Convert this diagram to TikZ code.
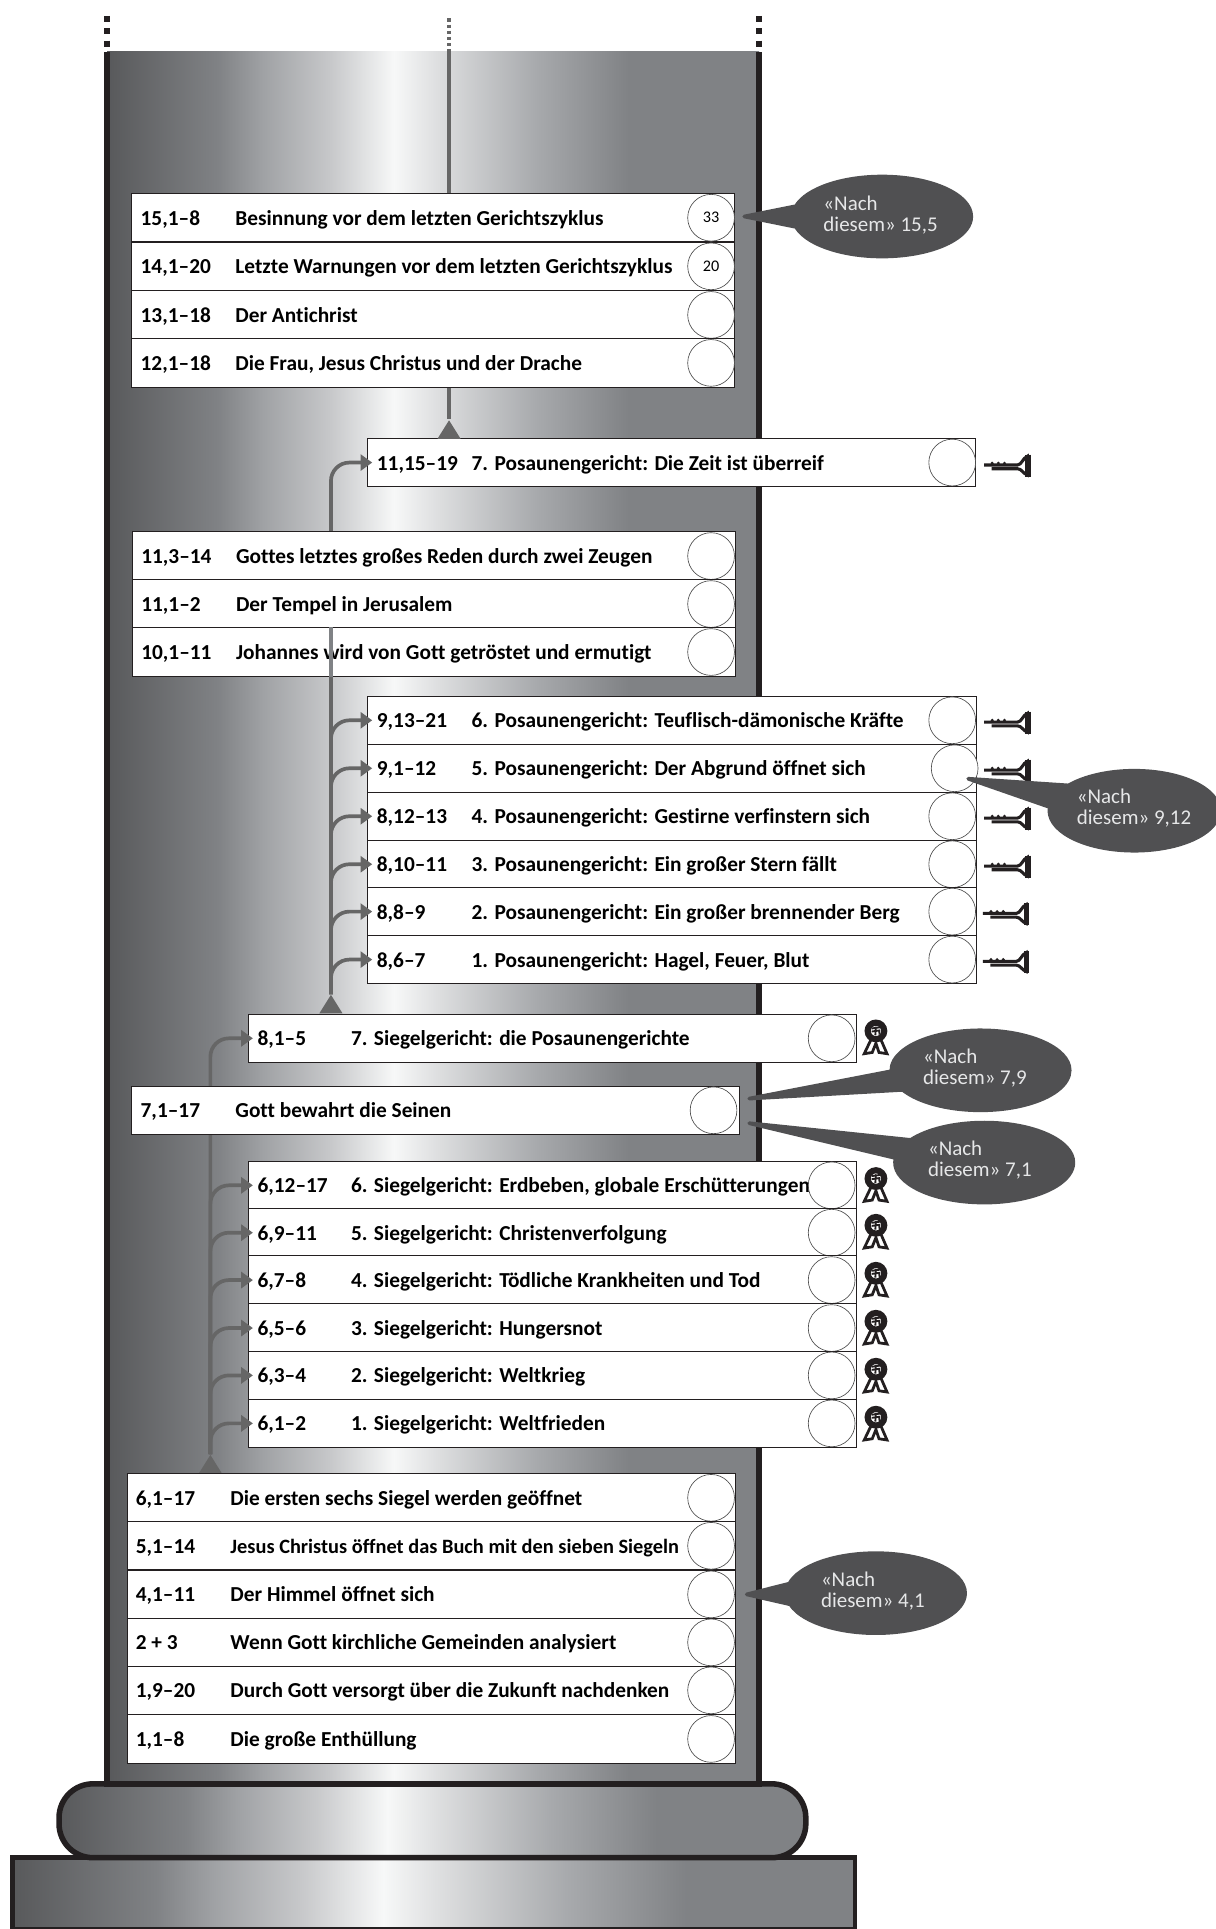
\documentclass[tikz,border=0pt]{standalone}
\usepackage{fontspec}
\setmainfont{Carlito}[Ligatures=NoCommon]
\usetikzlibrary{arrows.meta,shapes.geometric,shapes.callouts}
\definecolor{flowgrey}{HTML}{666666}
\definecolor{flowlight}{HTML}{808285}
\definecolor{barink}{HTML}{231F20}
\definecolor{bubblegrey}{HTML}{505052}
\definecolor{bubbletext}{HTML}{E6E7E8}
\definecolor{sA}{HTML}{58595B}
\definecolor{sB}{HTML}{808285}
\definecolor{sC}{HTML}{A0A2A5}
\definecolor{sD}{HTML}{C8C9CB}
\definecolor{sE}{HTML}{F7F8F8}
\definecolor{sF}{HTML}{E0E1E2}
\definecolor{sG}{HTML}{A7A9AC}
\pgfdeclarehorizontalshading{columnshade}{100bp}{color(0bp)=(sA); color(25bp)=(sA); color(33.5bp)=(sB); color(37bp)=(sC); color(42.25bp)=(sD); color(47bp)=(sE); color(50bp)=(sF); color(58bp)=(sG); color(65bp)=(sB); color(75bp)=(sB); color(100bp)=(sB)}
\tikzset{
  keyicon/.pic={
    \draw[barink,line width=.5mm] (-.37,0) -- (.17,0) .. controls (.24,0) and (.26,.12) .. (.33,.14) -- (.33,-.16) .. controls (.26,-.14) and (.24,-.06) .. (.17,-.06) -- (-.25,-.06);
    \draw[barink,line width=.9mm] (.34,.17) -- (.34,-.19);
    \fill[barink] (-.24,.03) circle (.027) (-.14,.03) circle (.027) (-.04,.03) circle (.027);
  },
  sealicon/.pic={
    \draw[barink,line width=.45mm,fill=white] (-.08,-.04) -- (-.19,-.27) -- (-.06,-.25) -- (0,-.1) -- (.05,-.25) -- (.18,-.27) -- (.08,-.04);
    \draw[barink,line width=1mm,fill=white] (0,.1) circle (.135);
    \draw[barink,line width=.3mm] (-.07,.14) -- (.07,.16) (-.07,.09) -- (.07,.11) (0,.17) -- (-.01,.03) (.05,.11) -- (.06,.04);
  }
}
\begin{document}
\begin{tikzpicture}[
   rowbox/.style={draw=barink,fill=white,line width=.5pt,minimum height=.785cm,inner sep=0},
   reftext/.style={anchor=west,inner sep=0,text height=1.7ex,text depth=.25ex,font=\fontsize{9.87}{11}\selectfont\bfseries},
   titletext/.style={anchor=west,inner sep=0,text height=1.7ex,text depth=.25ex,font=\fontsize{9.87}{11}\selectfont\bfseries},
   roundel/.style={circle,draw=black!70,line width=.3pt,fill=white,minimum size=.76cm,inner sep=0,font=\fontsize{7.5}{9}\selectfont},
   nachbubble/.style={ellipse callout,draw=bubblegrey,line width=.06cm,line join=round,fill=bubblegrey,minimum width=2.9cm,minimum height=1.3cm,inner sep=0},
   nachtext/.style={anchor=west,inner sep=0,text=bubbletext,align=left,font=\fontsize{9.7}{9.8}\selectfont},
   trunkline/.style={draw=flowgrey,line width=.6mm},
   branchline/.style={draw=flowgrey,line width=.6mm,rounded corners=.3cm,shorten >=-.08cm,-{Triangle[length=.19cm,width=.26cm]}},
   tritip/.style={isosceles triangle,shape border rotate=90,isosceles triangle apex angle=64,minimum height=.3cm,inner sep=0,fill=flowgrey,anchor=lower side},
   barline/.style={draw=barink,line width=.1cm},
   ]
   \useasboundingbox (0,0) rectangle (19.76,-31.36);
   % plinth, torus and shaft
   \draw[barline,line width=.08cm,shading=columnshade] (.2,-30.2) rectangle (13.9,-31.36);
   \draw[barline,line width=.09cm,shading=columnshade,rounded corners=.55cm] (.96,-29) rectangle (13.1,-30.2);
   \shade[shading=columnshade] (1.74,-.84) rectangle (12.34,-29);
   \coordinate (shaftTL) at (1.74,-.84);
   \coordinate (shaftTR) at (12.34,-.84);
   \coordinate (shaftBL) at (1.74,-29);
   \coordinate (shaftBR) at (12.34,-29);
   \draw[barline] (shaftTL) -- (shaftBL) -- (shaftBR) -- (shaftTR);
   \draw[barline,dash pattern=on .1cm off .1cm] (1.74,-.26) -- (shaftTL);
   \draw[barline,dash pattern=on .1cm off .1cm] (12.34,-.26) -- (shaftTR);
   \coordinate (spineTop) at (7.3,-.3);
   \coordinate (spineIn) at (7.3,-.84);
   \draw[flowgrey,line width=.06cm,dash pattern=on .05cm off .05cm] (spineTop) -- (spineIn);

   % rows the arrows run to
   \node[rowbox,minimum width=9.88cm] (r1115) at (10.92,-7.52) {};
   \node[reftext] (r1115a) at (6.12,-7.52) {11,15–19};
   \node[titletext] (r1115b) at (7.66,-7.52) {7. Posaunengericht: Die Zeit ist überreif};
   \node[roundel] (r1115c) at (15.48,-7.52) {};

   \node[rowbox,minimum width=9.9cm] (r913) at (10.93,-11.71) {};
   \node[reftext] (r913a) at (6.12,-11.71) {9,13–21};
   \node[titletext] (r913b) at (7.66,-11.71) {6. Posaunengericht: Teuflisch-dämonische Kräfte};
   \node[roundel] (r913c) at (15.48,-11.71) {};
   \node[rowbox,minimum width=9.9cm] (r91) at (10.93,-12.49) {};
   \node[reftext] (r91a) at (6.12,-12.49) {9,1–12};
   \node[titletext] (r91b) at (7.66,-12.49) {5. Posaunengericht: Der Abgrund öffnet sich};
   \node[roundel] (r91c) at (15.52,-12.49) {};
   \node[rowbox,minimum width=9.9cm] (r812) at (10.93,-13.27) {};
   \node[reftext] (r812a) at (6.12,-13.27) {8,12–13};
   \node[titletext] (r812b) at (7.66,-13.27) {4. Posaunengericht: Gestirne verfinstern sich};
   \node[roundel] (r812c) at (15.48,-13.27) {};
   \node[rowbox,minimum width=9.9cm] (r810) at (10.93,-14.05) {};
   \node[reftext] (r810a) at (6.12,-14.05) {8,10–11};
   \node[titletext] (r810b) at (7.66,-14.05) {3. Posaunengericht: Ein großer Stern fällt};
   \node[roundel] (r810c) at (15.48,-14.05) {};
   \node[rowbox,minimum width=9.9cm] (r88) at (10.93,-14.82) {};
   \node[reftext] (r88a) at (6.12,-14.82) {8,8–9};
   \node[titletext] (r88b) at (7.66,-14.82) {2. Posaunengericht: Ein großer brennender Berg};
   \node[roundel] (r88c) at (15.48,-14.82) {};
   \node[rowbox,minimum width=9.9cm] (r86) at (10.93,-15.6) {};
   \node[reftext] (r86a) at (6.12,-15.6) {8,6–7};
   \node[titletext] (r86b) at (7.66,-15.6) {1. Posaunengericht: Hagel, Feuer, Blut};
   \node[roundel] (r86c) at (15.48,-15.6) {};

   \node[rowbox,minimum width=9.88cm] (r81) at (8.98,-16.88) {};
   \node[reftext] (r81a) at (4.18,-16.88) {8,1–5};
   \node[titletext] (r81b) at (5.70,-16.88) {7. Siegelgericht: die Posaunengerichte};
   \node[roundel] (r81c) at (13.52,-16.88) {};

   \node[rowbox,minimum width=9.88cm] (r612) at (8.98,-19.27) {};
   \node[reftext] (r612a) at (4.18,-19.27) {6,12–17};
   \node[titletext] (r612b) at (5.70,-19.27) {6. Siegelgericht: Erdbeben, globale Erschütterungen};
   \node[roundel] (r612c) at (13.52,-19.27) {};
   \node[rowbox,minimum width=9.88cm] (r69) at (8.98,-20.04) {};
   \node[reftext] (r69a) at (4.18,-20.04) {6,9–11};
   \node[titletext] (r69b) at (5.70,-20.04) {5. Siegelgericht: Christenverfolgung};
   \node[roundel] (r69c) at (13.52,-20.04) {};
   \node[rowbox,minimum width=9.88cm] (r67) at (8.98,-20.81) {};
   \node[reftext] (r67a) at (4.18,-20.81) {6,7–8};
   \node[titletext] (r67b) at (5.70,-20.81) {4. Siegelgericht: Tödliche Krankheiten und Tod};
   \node[roundel] (r67c) at (13.52,-20.81) {};
   \node[rowbox,minimum width=9.88cm] (r65) at (8.98,-21.59) {};
   \node[reftext] (r65a) at (4.18,-21.59) {6,5–6};
   \node[titletext] (r65b) at (5.70,-21.59) {3. Siegelgericht: Hungersnot};
   \node[roundel] (r65c) at (13.52,-21.59) {};
   \node[rowbox,minimum width=9.88cm] (r63) at (8.98,-22.36) {};
   \node[reftext] (r63a) at (4.18,-22.36) {6,3–4};
   \node[titletext] (r63b) at (5.70,-22.36) {2. Siegelgericht: Weltkrieg};
   \node[roundel] (r63c) at (13.52,-22.36) {};
   \node[rowbox,minimum width=9.88cm] (r61) at (8.98,-23.14) {};
   \node[reftext] (r61a) at (4.18,-23.14) {6,1–2};
   \node[titletext] (r61b) at (5.70,-23.14) {1. Siegelgericht: Weltfrieden};
   \node[roundel] (r61c) at (13.52,-23.14) {};

   % the two arrow trunks, they run behind the rows drawn after them
   \node[tritip] (tipB) at (5.38,-16.48) {};
   \node[tritip] (tipC) at (3.42,-23.96) {};
   \draw[branchline] (tipB.apex) |- (r1115.west);
   \draw[branchline] (tipB.apex) |- (r913.west);
   \draw[branchline] (tipB.apex) |- (r91.west);
   \draw[branchline] (tipB.apex) |- (r812.west);
   \draw[branchline] (tipB.apex) |- (r810.west);
   \draw[branchline] (tipB.apex) |- (r88.west);
   \draw[branchline] (tipB.apex) |- (r86.west);
   \draw[branchline] (tipC.apex) |- (r81.west);
   \draw[branchline] (tipC.apex) |- (r612.west);
   \draw[branchline] (tipC.apex) |- (r69.west);
   \draw[branchline] (tipC.apex) |- (r67.west);
   \draw[branchline] (tipC.apex) |- (r65.west);
   \draw[branchline] (tipC.apex) |- (r63.west);
   \draw[branchline] (tipC.apex) |- (r61.west);

   % rows on top of the trunks
   \node[rowbox,minimum width=9.8cm] (r151) at (7.04,-3.54) {};
   \node[reftext] (r151a) at (2.28,-3.54) {15,1–8};
   \node[titletext] (r151b) at (3.82,-3.54) {Besinnung vor dem letzten Gerichtszyklus};
   \node[roundel] (r151c) at (11.56,-3.54) {33};
   \node[rowbox,minimum width=9.8cm] (r141) at (7.04,-4.33) {};
   \node[reftext] (r141a) at (2.28,-4.33) {14,1–20};
   \node[titletext] (r141b) at (3.82,-4.33) {Letzte Warnungen vor dem letzten Gerichtszyklus};
   \node[roundel] (r141c) at (11.56,-4.33) {20};
   \node[rowbox,minimum width=9.8cm] (r131) at (7.04,-5.12) {};
   \node[reftext] (r131a) at (2.28,-5.12) {13,1–18};
   \node[titletext] (r131b) at (3.82,-5.12) {Der Antichrist};
   \node[roundel] (r131c) at (11.56,-5.12) {};
   \node[rowbox,minimum width=9.8cm] (r121) at (7.04,-5.9) {};
   \node[reftext] (r121a) at (2.28,-5.9) {12,1–18};
   \node[titletext] (r121b) at (3.82,-5.9) {Die Frau, Jesus Christus und der Drache};
   \node[roundel] (r121c) at (11.56,-5.9) {};

   \node[tritip] (tipA) at (7.3,-7.14) {};
   \draw[trunkline] (spineIn) -- (spineIn |- r151.north);
   \draw[trunkline] (tipA.apex |- r121.south) -- (tipA.apex);

   \node[rowbox,minimum width=9.8cm] (r113) at (7.06,-9.04) {};
   \node[reftext] (r113a) at (2.29,-9.04) {11,3–14};
   \node[titletext] (r113b) at (3.83,-9.04) {Gottes letztes großes Reden durch zwei Zeugen};
   \node[roundel] (r113c) at (11.56,-9.04) {};
   \node[rowbox,minimum width=9.8cm] (r111) at (7.06,-9.82) {};
   \node[reftext] (r111a) at (2.29,-9.82) {11,1–2};
   \node[titletext] (r111b) at (3.83,-9.82) {Der Tempel in Jerusalem};
   \node[roundel] (r111c) at (11.56,-9.82) {};
   \node[rowbox,minimum width=9.8cm] (r101) at (7.06,-10.6) {};
   \node[reftext] (r101a) at (2.29,-10.6) {10,1–11};
   \node[titletext] (r101b) at (3.83,-10.6) {Johannes wird von Gott getröstet und ermutigt};
   \node[roundel] (r101c) at (11.56,-10.6) {};
   \draw[trunkline,draw=flowlight] (tipB.apex |- r101.south) -- (tipB.apex |- r101.north);

   \node[rowbox,minimum width=9.88cm] (r71) at (7.08,-18.05) {};
   \node[reftext] (r71a) at (2.28,-18.05) {7,1–17};
   \node[titletext] (r71b) at (3.82,-18.05) {Gott bewahrt die Seinen};
   \node[roundel] (r71c) at (11.6,-18.05) {};

   \node[rowbox,minimum width=9.88cm] (s61) at (7.02,-24.35) {};
   \node[reftext] (s61a) at (2.2,-24.35) {6,1–17};
   \node[titletext] (s61b) at (3.74,-24.35) {Die ersten sechs Siegel werden geöffnet};
   \node[roundel] (s61c) at (11.56,-24.35) {};
   \node[rowbox,minimum width=9.88cm] (s51) at (7.02,-25.13) {};
   \node[reftext] (s51a) at (2.2,-25.13) {5,1–14};
   \node[titletext,font=\fontsize{9.42}{11}\selectfont\bfseries] (s51b) at (3.74,-25.13) {Jesus Christus öffnet das Buch mit den sieben Siegeln};
   \node[roundel] (s51c) at (11.56,-25.13) {};
   \node[rowbox,minimum width=9.88cm] (s41) at (7.02,-25.92) {};
   \node[reftext] (s41a) at (2.2,-25.92) {4,1–11};
   \node[titletext] (s41b) at (3.74,-25.92) {Der Himmel öffnet sich};
   \node[roundel] (s41c) at (11.56,-25.92) {};
   \node[rowbox,minimum width=9.88cm] (s23) at (7.02,-26.7) {};
   \node[reftext] (s23a) at (2.2,-26.7) {2 + 3};
   \node[titletext] (s23b) at (3.74,-26.7) {Wenn Gott kirchliche Gemeinden analysiert};
   \node[roundel] (s23c) at (11.56,-26.7) {};
   \node[rowbox,minimum width=9.88cm] (s19) at (7.02,-27.48) {};
   \node[reftext] (s19a) at (2.2,-27.48) {1,9–20};
   \node[titletext] (s19b) at (3.74,-27.48) {Durch Gott versorgt über die Zukunft nachdenken};
   \node[roundel] (s19c) at (11.56,-27.48) {};
   \node[rowbox,minimum width=9.88cm] (s11) at (7.02,-28.27) {};
   \node[reftext] (s11a) at (2.2,-28.27) {1,1–8};
   \node[titletext] (s11b) at (3.74,-28.27) {Die große Enthüllung};
   \node[roundel] (s11c) at (11.56,-28.27) {};

   % keys and seals
   \pic at (16.37,-7.56) {keyicon};
   \pic at (16.37,-11.74) {keyicon};
   \pic at (16.37,-12.52) {keyicon};
   \pic at (16.37,-13.3) {keyicon};
   \pic at (16.37,-14.08) {keyicon};
   \pic at (16.35,-14.85) {keyicon};
   \pic at (16.35,-15.63) {keyicon};
   \pic at (14.24,-16.86) {sealicon};
   \pic at (14.24,-19.26) {sealicon};
   \pic at (14.24,-20.02) {sealicon};
   \pic at (14.24,-20.8) {sealicon};
   \pic at (14.24,-21.58) {sealicon};
   \pic at (14.24,-22.36) {sealicon};
   \pic at (14.24,-23.14) {sealicon};

   % speech bubbles
   \coordinate (pt155) at (12.1,-3.52);
   \coordinate (pt912) at (15.74,-12.66);
   \coordinate (pt79) at (12.18,-17.86);
   \coordinate (pt71) at (12.18,-18.26);
   \coordinate (pt41) at (12.14,-25.92);
   \node[nachbubble,callout pointer arc=30,callout absolute pointer=(pt155)] (nach155) at (14.34,-3.52) {};
   \node[nachtext] (nach155t) at (13.38,-3.49) {«Nach\\diesem» 15,5};
   \node[nachbubble,minimum width=2.76cm,callout pointer arc=34,callout absolute pointer=(pt912)] (nach912) at (18.44,-13.18) {};
   \node[nachtext] (nach912t) at (17.5,-13.14) {«Nach\\diesem» 9,12};
   \node[nachbubble,callout pointer arc=28,callout absolute pointer=(pt79)] (nach79) at (15.94,-17.4) {};
   \node[nachtext] (nach79t) at (15,-17.36) {«Nach\\diesem» 7,9};
   \node[nachbubble,callout pointer arc=28,callout absolute pointer=(pt71)] (nach71) at (16,-18.9) {};
   \node[nachtext] (nach71t) at (15.08,-18.86) {«Nach\\diesem» 7,1};
   \node[nachbubble,callout pointer arc=30,callout absolute pointer=(pt41)] (nach41) at (14.24,-25.9) {};
   \node[nachtext] (nach41t) at (13.34,-25.87) {«Nach\\diesem» 4,1};
\end{tikzpicture}
\end{document}
